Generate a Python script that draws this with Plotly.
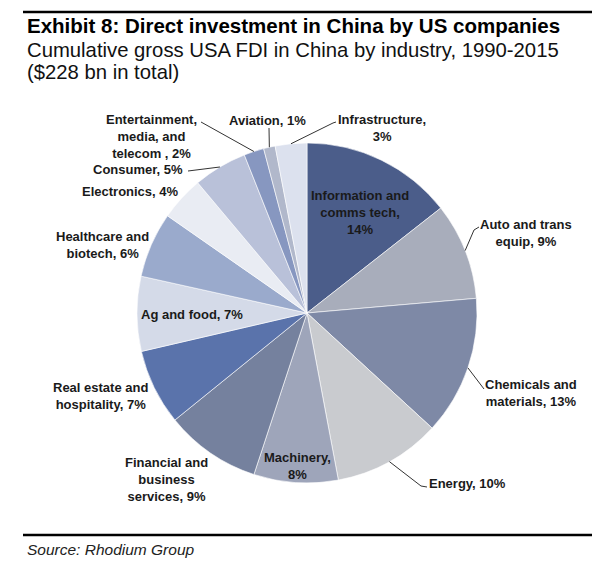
import math
import plotly.graph_objects as go

# ---------------- data ----------------
industries = [
    "Information and<br>comms tech",
    "Auto and trans<br>equip",
    "Chemicals and<br>materials",
    "Energy",
    "Machinery",
    "Financial and<br>business<br>services",
    "Real estate and<br>hospitality",
    "Ag and food",
    "Healthcare and<br>biotech",
    "Electronics",
    "Consumer",
    "Entertainment,<br>media, and<br>telecom ",
    "Aviation",
    "Infrastructure",
]
shares = [14.4, 9.2, 13.2, 10.2, 8.0, 9.1, 7.2, 7.1, 6.2, 4.2, 5.1, 1.9, 1.1, 3.0]
# separator between name and percent in each label
label_seps = [",<br>", ", ", ", ", ", ", ",<br>", ", ", ", ", ", ", ", ", ", ", ", ", ", ", ", ", ",<br>"]

# ---------------- style ----------------
W, H = 613, 576
colors = ["#4B5D8A", "#A8ADBB", "#7E89A6", "#C9CBCF", "#9EA5BA", "#75819E",
          "#5A73AB", "#D4DAE8", "#9AAACC", "#E9ECF3", "#B9C1D9", "#8797C0",
          "#B1B8CB", "#DCE1EE"]
# label centres (pixels)
label_pos = [(360, 212), (526, 233), (531, 393), (467, 483), (297, 466),
             (166, 479), (100, 396), (192, 314), (102, 245), (130, 191),
             (138, 169), (151, 136), (267, 120), (382, 128)]
# leader line start points (pixels) on label side, None = no leader
leader_start = [None, [(479, 227), (474, 230)], [(484, 389)], [(427, 487), (421, 486)],
                None, None, None, None, None, None, [(188, 171)], [(201, 122)],
                [(269, 128)], [(336, 122), (333, 123)]]

CX, CY, R = 307, 313, 170
FONT = "Liberation Sans, Arial, sans-serif"


def px(x, y):
    return x / W, 1 - y / H


fig = go.Figure()
fig.add_trace(go.Pie(
    labels=industries, values=shares, sort=False, direction="clockwise",
    rotation=0, textinfo="none", hoverinfo="label+percent",
    marker=dict(colors=colors, line=dict(color="white", width=0.6)),
    domain=dict(x=[(CX - R) / W, (CX + R) / W], y=[1 - (CY + R) / H, 1 - (CY - R) / H]),
    showlegend=False,
))

total = sum(shares)
annotations = []
shapes = []
cum = 0.0
for name, v, sep, (lx, ly), ls in zip(industries, shares, label_seps, label_pos, leader_start):
    mid = (cum + v / 2) / total * 2 * math.pi
    cum += v
    pct = round(v / total * 100)
    x, y = px(lx, ly)
    annotations.append(dict(
        text=f"<b>{name}{sep}{pct}%</b>", x=x, y=y, xref="paper", yref="paper",
        xanchor="center", yanchor="middle", showarrow=False, align="center",
        font=dict(family=FONT, size=13, color="#1a1a1a")))
    if ls:
        ex, ey = CX + R * math.sin(mid), CY - R * math.cos(mid)
        pts = ls + [(ex, ey)]
        path = "M " + " L ".join(f"{px(a, b)[0]:.5f},{px(a, b)[1]:.5f}" for a, b in pts)
        shapes.append(dict(type="path", path=path, xref="paper", yref="paper",
                           line=dict(color="#333333", width=1), layer="above"))

# title, subtitle and source
text_lines = [
    ("<b>Exhibit 8: Direct investment in China by US companies</b>", 26, 20.5, "black"),
    ("Cumulative gross USA FDI in China by industry, 1990-2015", 50, 20.3, "#111111"),
    ("($228 bn in total)", 72, 20.3, "#111111"),
    ("<i>Source: Rhodium Group</i>", 549, 15.5, "#222222"),
]
for t, yy, sz, c in text_lines:
    x, y = px(25, yy)
    annotations.append(dict(text=t, x=x, y=y, xref="paper", yref="paper",
                            xanchor="left", yanchor="middle", showarrow=False,
                            font=dict(family=FONT, size=sz, color=c)))

for yy in (12, 535):
    x0, y0 = px(23, yy)
    x1, _ = px(592, yy)
    shapes.append(dict(type="line", x0=x0, x1=x1, y0=y0, y1=y0, xref="paper", yref="paper",
                       line=dict(color="black", width=2.5)))

fig.update_layout(
    width=W, height=H, margin=dict(l=0, r=0, t=0, b=0),
    paper_bgcolor="white", plot_bgcolor="white",
    annotations=annotations, shapes=shapes,
)
fig.write_html("out.html", config={"displayModeBar": False},
               post_script="document.body.style.margin='0';document.body.style.padding='0';")
